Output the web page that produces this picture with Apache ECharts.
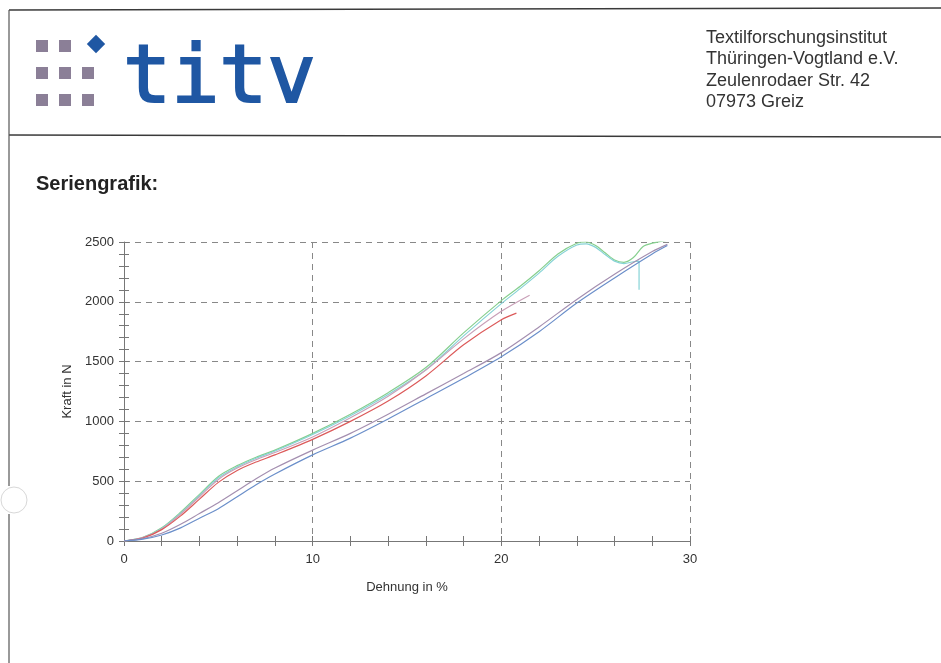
<!DOCTYPE html>
<html>
<head>
<meta charset="utf-8">
<script src="https://cdn.jsdelivr.net/npm/echarts@6/dist/echarts.min.js"></script>
<style>
  html, body { margin: 0; padding: 0; background: #fff; }
  #chart { width: 941px; height: 663px; }
</style>
</head>
<body>
<div id="chart"></div>
<script>
// Messkurven: Dehnung in % / Kraft in N
var gruen = [[0,0],[1,30],[2,110],[3,240],[4,390],[5,540],[6,630],[7,700],[8,760],[10,900],[12,1060],[14,1240],[16,1450],[18,1740],[20,2010],[21,2130],[22,2260],[23,2400],[24,2490],[24.5,2500],[25,2470],[25.5,2410],[26,2350],[26.5,2330],[27,2370],[27.5,2460],[28,2490],[29,2520],[30,2540]];
var cyan = [[0,0],[1,28],[2,105],[3,232],[4,380],[5,528],[6,620],[7,692],[8,752],[10,890],[12,1048],[14,1225],[16,1432],[18,1715],[20,1985],[21,2110],[22,2240],[23,2380],[24,2475],[24.5,2485],[25,2455],[25.5,2395],[26,2340],[26.5,2320],[27,2335],[27.3,2340],[27.3,2100]];
var rot = [[0,0],[1,25],[2,95],[3,210],[4,350],[5,490],[6,590],[7,660],[8,720],[10,850],[12,1000],[14,1170],[16,1380],[18,1640],[20,1850],[20.8,1905]];
var rosa = [[0,0],[1,28],[2,100],[3,225],[4,370],[5,515],[6,610],[7,680],[8,740],[10,870],[12,1030],[14,1210],[16,1430],[18,1690],[20,1920],[21.5,2055]];
var blau = [[0,0],[1,15],[2,50],[3,110],[4,190],[5,270],[6,370],[7,470],[8,560],[10,720],[12,860],[14,1020],[16,1190],[18,1360],[20,1540],[22,1750],[24,1990],[26,2200],[28,2400],[28.8,2470]];
var lila = [[0,0],[1,20],[2,65],[3,140],[4,230],[5,320],[6,420],[7,520],[8,610],[10,760],[12,900],[14,1060],[16,1230],[18,1400],[20,1575],[22,1790],[24,2020],[26,2230],[28,2420],[28.8,2480]];

var adresse = ['Textilforschungsinstitut', 'Thüringen-Vogtland e.V.', 'Zeulenrodaer Str. 42', '07973 Greiz'];

var chart = echarts.init(document.getElementById('chart'));

function kurve(name, data, farbe) {
    return {
        name: name,
        type: 'line',
        data: data,
        showSymbol: false,
        smooth: 0.3,
        lineStyle: { color: farbe, width: 1.2 },
        xAxisIndex: 0,
        yAxisIndex: 0
    };
}

// Logo-Quadrate
var logo = [];
var spalten = [36, 59, 82];
var zeilen = [40, 67, 94];
for (var r = 0; r < 3; r++) {
    for (var c = 0; c < 3; c++) {
        if (r == 0 && c == 2) continue;
        logo.push({
            type: 'rect',
            shape: { x: spalten[c], y: zeilen[r], width: 12, height: 12 },
            style: { fill: '#8b7f97' }
        });
    }
}
logo.push({
    type: 'rect',
    shape: { x: -6.5, y: -6.5, width: 13, height: 13 },
    x: 96, y: 44, rotation: Math.PI / 4,
    style: { fill: '#1f57a3' }
});

var adressText = adresse.map(function (t, i) {
    return {
        type: 'text',
        left: 706, top: 29 + i * 21.5,
        style: { text: t, fill: '#333', font: '18px "Liberation Sans", Arial, sans-serif' }
    };
});

chart.setOption({
    backgroundColor: '#fff',
    animation: false,
    grid: { left: 124, right: 251, top: 242, bottom: 122 },
    graphic: [
        { type: 'line', shape: { x1: 9, y1: 10, x2: 941, y2: 8 }, style: { stroke: '#3a3a3a', lineWidth: 1.5 } },
        { type: 'line', shape: { x1: 9, y1: 135, x2: 941, y2: 137 }, style: { stroke: '#3a3a3a', lineWidth: 1.5 } },
        { type: 'line', shape: { x1: 9, y1: 10, x2: 9, y2: 486 }, style: { stroke: '#555', lineWidth: 1.2 } },
        { type: 'line', shape: { x1: 9, y1: 514, x2: 9, y2: 663 }, style: { stroke: '#555', lineWidth: 1.2 } },
        { type: 'circle', shape: { cx: 14, cy: 500, r: 13 }, style: { fill: '#fff', stroke: '#d8d8d8', lineWidth: 1 } },
        {
            type: 'text', left: 122, top: 40,
            style: { text: 'titv', fill: '#1f57a3', stroke: '#1f57a3', lineWidth: 2,
                font: '80px "DejaVu Sans Mono", monospace' }
        },
        {
            type: 'text', left: 36, top: 174,
            style: { text: 'Seriengrafik:', fill: '#222', font: 'bold 20px "Liberation Sans", Arial, sans-serif' }
        }
    ].concat(logo, adressText),
    xAxis: [{
        type: 'value',
        min: 0, max: 30, interval: 10,
        name: 'Dehnung in %',
        nameLocation: 'middle',
        nameGap: 40,
        nameTextStyle: { color: '#333', fontSize: 13, fontFamily: 'Liberation Sans' },
        axisLine: { show: true, onZero: false, lineStyle: { color: '#777' } },
        axisTick: { show: true, length: 5, lineStyle: { color: '#777' } },
        minorTick: { show: true, splitNumber: 5, length: 5, lineStyle: { color: '#777' } },
        axisLabel: { color: '#333', fontSize: 13, margin: 12, fontFamily: 'Liberation Sans' },
        splitLine: { show: true, lineStyle: { color: '#888', type: [6, 5] } }
    }, {
        type: 'value',
        min: 0, max: 30, interval: 10,
        position: 'bottom',
        axisLine: { show: false },
        axisTick: { show: true, inside: true, length: 5, lineStyle: { color: '#777' } },
        minorTick: { show: true, splitNumber: 5, length: 5, lineStyle: { color: '#777' } },
        axisLabel: { show: false },
        splitLine: { show: false }
    }],
    yAxis: [{
        type: 'value',
        min: 0, max: 2500, interval: 500,
        name: 'Kraft in N',
        nameLocation: 'middle',
        nameGap: 49,
        nameTextStyle: { color: '#333', fontSize: 13, fontFamily: 'Liberation Sans' },
        axisLine: { show: true, lineStyle: { color: '#777' } },
        axisTick: { show: true, length: 5, lineStyle: { color: '#777' } },
        minorTick: { show: true, splitNumber: 5, length: 5, lineStyle: { color: '#777' } },
        axisLabel: { color: '#333', fontSize: 13, margin: 10, fontFamily: 'Liberation Sans',
            formatter: function (v) { return String(v); } },
        splitLine: { show: true, lineStyle: { color: '#888', type: [6, 5] } }
    }, {
        type: 'value',
        min: 0, max: 2500, interval: 500,
        position: 'left',
        axisLine: { show: false },
        axisTick: { show: true, inside: true, length: 5, lineStyle: { color: '#777' } },
        minorTick: { show: true, splitNumber: 5, length: 5, lineStyle: { color: '#777' } },
        axisLabel: { show: false },
        splitLine: { show: false }
    }],
    series: [
        kurve('Probe 1', gruen, '#86cf8e'),
        kurve('Probe 2', cyan, '#86d3d6'),
        kurve('Probe 3', rosa, '#c9a0b8'),
        kurve('Probe 4', rot, '#dc5a5a'),
        kurve('Probe 5', lila, '#a48fb0'),
        kurve('Probe 6', blau, '#6b8fca')
    ]
});
</script>
</body>
</html>
